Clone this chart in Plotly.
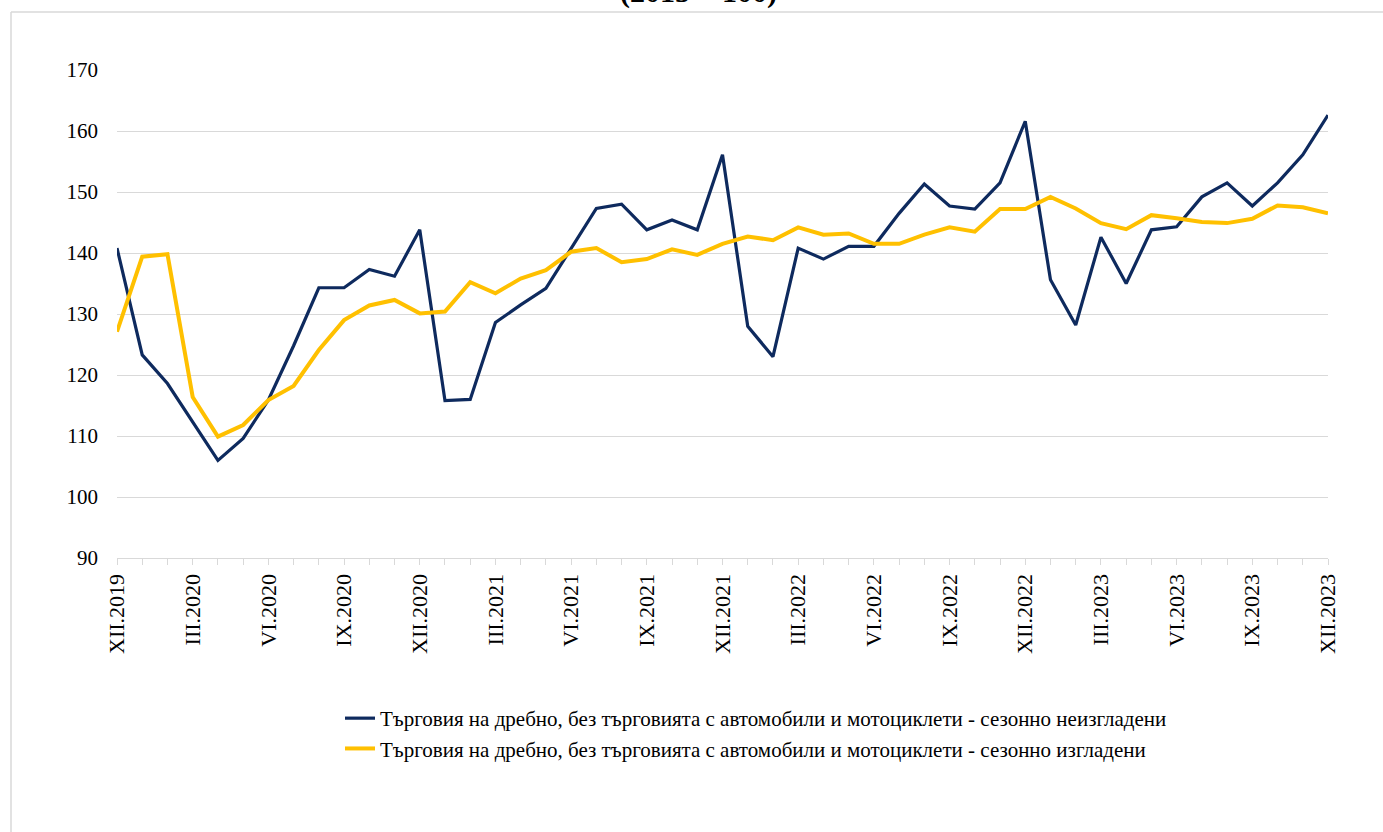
import plotly.graph_objects as go

roman = ["I", "II", "III", "IV", "V", "VI", "VII", "VIII", "IX", "X", "XI", "XII"]
months = ["XII.2019"] + [f"{roman[m]}.{y}" for y in range(2020, 2024) for m in range(12)]

not_adjusted = [140.8, 123.3, 118.6, 112.3, 106.0, 109.6, 115.9, 124.8, 134.3, 134.3,
                137.3, 136.2, 143.8, 115.8, 116.0, 128.6, 131.5, 134.2, 140.8, 147.3,
                148.0, 143.8, 145.4, 143.8, 156.1, 128.0, 123.0, 140.8, 139.0, 141.1,
                141.1, 146.5, 151.3, 147.7, 147.2, 151.5, 161.6, 135.6, 128.2, 142.6,
                135.0, 143.8, 144.3, 149.2, 151.5, 147.7, 151.5, 156.1, 162.6]
adjusted = [127.1, 139.4, 139.8, 116.4, 109.9, 111.8, 115.9, 118.2, 124.1, 129.0,
            131.4, 132.3, 130.1, 130.4, 135.2, 133.4, 135.8, 137.2, 140.2, 140.8,
            138.5, 139.0, 140.6, 139.7, 141.5, 142.7, 142.1, 144.2, 143.0, 143.2,
            141.5, 141.5, 143.0, 144.2, 143.5, 147.2, 147.2, 149.2, 147.3, 144.9,
            143.9, 146.2, 145.7, 145.1, 144.9, 145.6, 147.8, 147.5, 146.5]

name_na = "Търговия на дребно, без търговията с автомобили и мотоциклети - сезонно неизгладени"
name_sa = "Търговия на дребно, без търговията с автомобили и мотоциклети - сезонно изгладени"
title_text = "(2015 = 100)"

FONT = "Times New Roman, Liberation Serif, serif"
GRID = "#D9D9D9"

W, H = 1383, 832
L, R, T, B = 117, 55, 70, 274
pw, ph = W - L - R, H - T - B


def px_x(px):
    return (px - L) / pw


def px_y(py):
    return (H - B - py) / ph


fig = go.Figure()
fig.add_trace(go.Scatter(x=months, y=not_adjusted, mode="lines", name=name_na,
                         line=dict(color="#0E2A5E", width=3.2)))
fig.add_trace(go.Scatter(x=months, y=adjusted, mode="lines", name=name_sa,
                         line=dict(color="#FFC000", width=4)))

ticktext = [m if i % 3 == 0 else "" for i, m in enumerate(months)]

fig.update_layout(
    width=W, height=H,
    margin=dict(l=L, r=R, t=T, b=B, autoexpand=False),
    paper_bgcolor="white", plot_bgcolor="white",
    font=dict(family=FONT, color="black"),
    showlegend=True,
    legend=dict(orientation="v", x=px_x(340), xanchor="left", y=px_y(698), yanchor="top",
                font=dict(family=FONT, size=21, color="black"),
                bgcolor="rgba(0,0,0,0)", tracegroupgap=0),
    xaxis=dict(type="category", range=[0, len(months) - 1],
               tickmode="array", tickvals=months, ticktext=ticktext,
               tickangle=-90, ticks="outside", ticklen=6, tickcolor=GRID, tickwidth=1.3,
               showline=True, linecolor=GRID, linewidth=1.3, showgrid=False,
               tickfont=dict(family=FONT, size=22, color="black"), zeroline=False),
    yaxis=dict(range=[90, 170], tickmode="array", tickvals=list(range(90, 171, 10)),
               showgrid=True, gridcolor=GRID, gridwidth=1.3, zeroline=False,
               showline=False, ticks="", ticklabelstandoff=18,
               tickfont=dict(family=FONT, size=21, color="black")),
    shapes=[
        dict(type="line", xref="paper", yref="paper", x0=px_x(11), x1=px_x(1400),
             y0=px_y(12), y1=px_y(12), line=dict(color=GRID, width=1.5)),
        dict(type="line", xref="paper", yref="paper", x0=px_x(11), x1=px_x(11),
             y0=px_y(12), y1=px_y(850), line=dict(color=GRID, width=1.5)),
    ],
    annotations=[
        dict(text=f"<b>{title_text}</b>", xref="paper", yref="paper",
             x=px_x(698), y=px_y(11), xanchor="center", yanchor="bottom",
             showarrow=False, font=dict(family=FONT, size=30, color="black")),
    ],
)

fig.write_html("out.html", config={"displayModeBar": False},
               post_script="document.body.style.margin='0';")
